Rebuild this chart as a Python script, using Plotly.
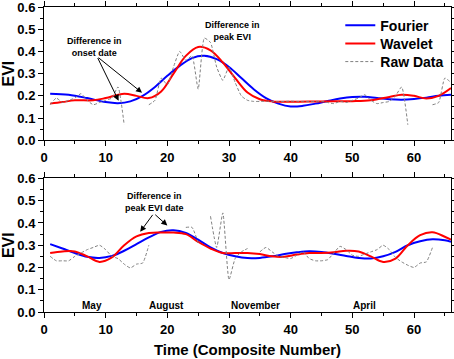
import plotly.graph_objects as go

# ---------------- data ----------------
# top panel
top_fourier_x = [1, 4, 7, 10, 12, 14, 16, 18, 20, 22, 24, 26, 28, 30, 32, 34, 36, 38, 40, 42, 44, 46, 48, 50, 52, 54, 56, 58, 60, 62, 64, 66]
top_fourier_y = [0.21, 0.205, 0.19, 0.172, 0.167, 0.175, 0.2, 0.24, 0.29, 0.335, 0.37, 0.38, 0.365, 0.33, 0.28, 0.23, 0.19, 0.165, 0.152, 0.155, 0.165, 0.177, 0.188, 0.195, 0.196, 0.19, 0.185, 0.183, 0.186, 0.192, 0.2, 0.205]

top_wavelet_x = [1, 3, 5, 8, 10, 13, 15, 17, 19, 21, 23, 25, 27, 29, 31, 33, 35, 37, 40, 45, 50, 53, 56, 58, 60, 62, 64, 66]
top_wavelet_y = [0.165, 0.172, 0.18, 0.18, 0.19, 0.21, 0.2, 0.19, 0.22, 0.3, 0.38, 0.42, 0.405, 0.35, 0.28, 0.215, 0.185, 0.175, 0.173, 0.175, 0.176, 0.18, 0.195, 0.205, 0.2, 0.188, 0.2, 0.235]

raw_x = list(range(1, 67))
top_raw_y = [0.16, 0.19, 0.17, 0.18, 0.19, 0.21, 0.18, 0.16, 0.17, 0.18, 0.19, 0.24, 0.07,
             None, None, None,
             0.16, 0.18, 0.28, 0.25, 0.33, 0.40, 0.36, 0.38, 0.23, 0.46, 0.44, 0.33, 0.27, 0.33,
             0.26, 0.20, 0.18, 0.175, 0.175, 0.176, 0.175, 0.174, 0.175, 0.176, 0.175, 0.175, 0.174, 0.175, 0.175,
             0.17, 0.165, 0.175, 0.17, 0.18, 0.19, 0.205, 0.18, 0.165, 0.17, 0.175, 0.2, 0.24, 0.07,
             None, None, None,
             0.16, 0.17, 0.28, 0.26]

# bottom panel
bot_fourier_x = [1, 3, 5, 7, 9, 11, 13, 15, 17, 19, 21, 23, 25, 27, 29, 31, 33, 35, 37, 39, 41, 43, 45, 47, 49, 51, 53, 55, 57, 59, 61, 63, 65, 66]
bot_fourier_y = [0.305, 0.285, 0.265, 0.248, 0.243, 0.252, 0.275, 0.305, 0.335, 0.36, 0.367, 0.355, 0.325, 0.29, 0.265, 0.25, 0.242, 0.243, 0.25, 0.26, 0.268, 0.273, 0.27, 0.262, 0.252, 0.243, 0.24, 0.25, 0.27, 0.3, 0.318, 0.327, 0.322, 0.315]

bot_wavelet_x = [1, 3, 5, 7, 9, 11, 13, 15, 17, 19, 21, 23, 25, 27, 29, 31, 33, 35, 37, 39, 41, 43, 45, 47, 49, 51, 53, 55, 57, 59, 61, 63, 65, 66]
bot_wavelet_y = [0.265, 0.272, 0.272, 0.25, 0.225, 0.245, 0.3, 0.34, 0.355, 0.357, 0.357, 0.35, 0.315, 0.285, 0.265, 0.265, 0.265, 0.26, 0.25, 0.248, 0.258, 0.265, 0.265, 0.268, 0.275, 0.272, 0.25, 0.225, 0.24, 0.3, 0.345, 0.358, 0.338, 0.325]

bot_raw_y = [0.25, 0.23, 0.23, 0.23, 0.25, 0.265, 0.28, 0.29, 0.30, 0.28, 0.25, 0.24, 0.215, 0.198, 0.215, 0.22, 0.30,
             None, None, None, None, None,
             0.38, 0.38, 0.31, None, 0.43, 0.29, 0.445, 0.145, 0.24, 0.27, 0.285, None,
             0.27, 0.29, 0.27, 0.25, 0.245, 0.24, 0.255, 0.27, 0.24, 0.23, 0.23, 0.235, 0.265, 0.295, 0.28,
             0.255, 0.25, 0.26, 0.27, 0.28, 0.30, 0.28, 0.245, 0.225, 0.21, 0.20, 0.22, 0.225, 0.29,
             None, None, None]

month_labels = ["May", "August", "November", "April"]
month_x = [7.8, 19.9, 34.3, 51.9]

x_ticks = [0, 10, 20, 30, 40, 50, 60]
y_ticks = [0.0, 0.1, 0.2, 0.3, 0.4, 0.5, 0.6]

# ---------------- figure ----------------
BLUE = "#0000ff"
RED = "#ff0000"
GREY = "#808080"
FONT = "Liberation Sans, Arial, sans-serif"

fig = go.Figure()

def add_panel(xa, ya, fx, fy, wx, wy, ry, show):
    fig.add_trace(go.Scatter(x=fx, y=fy, mode="lines", name="Fourier", xaxis=xa, yaxis=ya,
                             line=dict(color=BLUE, width=2, shape="spline", smoothing=1),
                             showlegend=show, legend="legend"))
    fig.add_trace(go.Scatter(x=wx, y=wy, mode="lines", name="Wavelet", xaxis=xa, yaxis=ya,
                             line=dict(color=RED, width=2, shape="spline", smoothing=1),
                             showlegend=show, legend="legend2"))
    fig.add_trace(go.Scatter(x=raw_x, y=ry, mode="lines", name="Raw Data", xaxis=xa, yaxis=ya,
                             connectgaps=False,
                             line=dict(color=GREY, width=1, dash="3px,2px", shape="spline", smoothing=0.5),
                             showlegend=show, legend="legend3"))

add_panel("x", "y", top_fourier_x, top_fourier_y, top_wavelet_x, top_wavelet_y, top_raw_y, True)
add_panel("x2", "y2", bot_fourier_x, bot_fourier_y, bot_wavelet_x, bot_wavelet_y, bot_raw_y, False)

tickfont = dict(family=FONT, size=13, color="black", weight="bold")

def xaxis_cfg(anchor, title=None):
    d = dict(anchor=anchor, range=[0, 66], tickmode="array", tickvals=x_ticks,
             ticks="outside", ticklen=5, tickwidth=1, tickcolor="black",
             minor=dict(dtick=5, tick0=0, ticks="outside", ticklen=3, tickcolor="black"),
             showline=True, linecolor="black", linewidth=1, mirror="ticks",
             showgrid=False, zeroline=False, tickfont=tickfont, automargin=False,
             ticklabeloverflow="allow")
    if title:
        d["title"] = dict(text=title, font=dict(family=FONT, size=15, color="black", weight="bold"), standoff=8)
    return d

def yaxis_cfg(anchor, domain):
    return dict(anchor=anchor, domain=domain, range=[0, 0.6], tickmode="array", tickvals=y_ticks,
                tickformat=".1f", ticks="outside", ticklen=5, tickwidth=1, tickcolor="black",
                minor=dict(dtick=0.05, tick0=0, ticks="outside", ticklen=3, tickcolor="black"),
                showline=True, linecolor="black", linewidth=1, mirror="ticks",
                showgrid=False, zeroline=False, tickfont=tickfont, automargin=False,
                ticklabeloverflow="allow",
                title=dict(text="EVI", font=dict(family=FONT, size=16, color="black", weight="bold"), standoff=6))

annot_font = dict(family=FONT, size=9, color="black", weight="bold")
annotations = [
    dict(x=8.15, y=0.419, xref="x", yref="y", text="Difference in<br>onset date", showarrow=False, font=annot_font),
    dict(x=30.6, y=0.493, xref="x", yref="y", text="Difference in<br>peak EVI", showarrow=False, font=annot_font),
    dict(x=17.85, y=0.492, xref="x2", yref="y2", text="Difference in<br>peak EVI date", showarrow=False, font=annot_font),
]
arrows = [
    ("x", "y", 8.6, 0.377, 12.1, 0.178),
    ("x", "y", 8.6, 0.377, 15.9, 0.214),
    ("x2", "y2", 17.8, 0.443, 15.6, 0.36),
    ("x2", "y2", 17.8, 0.443, 20.0, 0.388),
]
for xr, yr, tx, ty, hx, hy in arrows:
    annotations.append(dict(x=hx, y=hy, ax=tx, ay=ty, xref=xr, yref=yr, axref=xr, ayref=yr,
                            text="", showarrow=True, arrowhead=2, arrowsize=1.2, arrowwidth=1,
                            arrowcolor="black", standoff=0))
for lbl, mx in zip(month_labels, month_x):
    annotations.append(dict(x=mx, y=0.03, xref="x2", yref="y2", text=lbl, showarrow=False,
                            font=dict(family=FONT, size=10, color="black", weight="bold")))

legend_font = dict(family=FONT, size=14, color="black", weight="bold")
def legend_cfg(ypos):
    return dict(x=0.728, y=ypos, xanchor="left", yanchor="middle", bgcolor="rgba(0,0,0,0)",
                font=legend_font, itemwidth=30, borderwidth=0)

fig.update_layout(
    width=454, height=359,
    margin=dict(l=44, r=3, t=7, b=47, autoexpand=False),
    paper_bgcolor="white", plot_bgcolor="white",
    font=dict(family=FONT, color="black"),
    xaxis=xaxis_cfg("y"),
    yaxis=yaxis_cfg("x", [0.563, 1.0]),
    xaxis2=xaxis_cfg("y2", "Time (Composite Number)"),
    yaxis2=yaxis_cfg("x2", [0.0, 0.438]),
    legend=legend_cfg(0.9387),
    legend2=legend_cfg(0.8787),
    legend3=legend_cfg(0.8197),
    annotations=annotations,
    showlegend=True,
)

fig.write_html("out.html", config={"displayModeBar": False},
               post_script="document.body.style.margin='0';document.body.style.overflow='hidden';")
